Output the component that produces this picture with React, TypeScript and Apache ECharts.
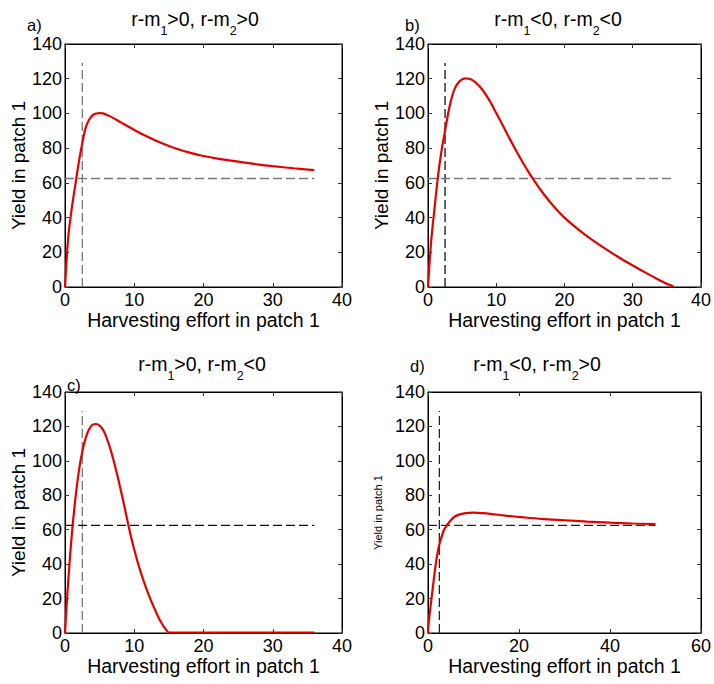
import React, { useEffect, useRef } from "react";
import * as echarts from "echarts";

// Curve data: [effort, yield]
const curveA: number[][] = [
  [0, 0], [0.25, 17], [0.5, 30], [1, 46], [1.5, 59], [2, 72], [2.5, 83], [3, 92], [3.5, 96.5],
  [4, 99], [4.5, 100], [5, 100.2], [5.5, 100], [6, 99.2], [7, 97.3], [8, 95], [9, 92.8], [10, 90.5],
  [12, 86.4], [14, 82.8], [16, 79.8], [18, 77.4], [20, 75.5], [22, 74], [25, 72.2], [28, 70.5],
  [30, 69.6], [33, 68.4], [36, 67.3],
];
const curveB: number[][] = [
  [0, 0], [0.25, 15], [0.5, 28], [1, 47], [1.5, 65], [2, 79], [2.5, 90], [3, 101], [3.5, 109.5],
  [4, 115], [4.5, 118], [5, 119.6], [5.5, 120.2], [6, 120], [6.5, 119.2], [7, 117.8], [8, 113.5],
  [9, 107.5], [10, 100.2], [11, 92.7], [12, 85.2], [13, 77.9], [14, 71], [15, 64.6], [16, 58.7],
  [17, 53.3], [18, 48.4], [19, 44], [20, 40], [22, 33.2], [24, 27.3], [26, 22], [28, 17], [30, 12.4],
  [32, 8], [34, 3.8], [35, 1.8], [36, 0.3],
];
const curveC: number[][] = [
  [0, 0], [0.25, 17], [0.5, 32], [1, 58], [1.5, 78], [2, 94], [2.5, 105.5], [3, 113.5], [3.5, 118.5],
  [4, 121], [4.5, 121.4], [5, 120.5], [5.5, 118], [6, 113.5], [6.5, 107.5], [7, 100.5], [7.5, 92.5],
  [8, 84], [8.5, 75], [9, 65.5], [9.5, 56.5], [10, 48.5], [10.5, 41], [11, 34.5], [11.5, 28.5],
  [12, 23], [12.5, 18], [13, 13.5], [13.5, 9], [14, 5.4], [14.5, 2.4], [15, 0.3], [20, 0.3],
  [25, 0.3], [30, 0.3], [36, 0.3],
];
const curveD: number[][] = [
  [0, 0], [0.1, 4.6], [0.5, 14], [1, 25], [1.5, 36], [2, 45], [2.5, 51.5], [3, 56], [3.5, 59.8],
  [4, 62], [5, 65.5], [6, 67.8], [7, 68.9], [8, 69.5], [9, 69.8], [10, 69.9], [12, 69.6], [14, 69.1],
  [17, 68.2], [21, 67.2], [25, 66.3], [30, 65.5], [35, 64.7], [40, 64.1], [45, 63.6], [50, 63.3],
];
const curves = [curveA, curveB, curveC, curveD];

// Reference dashed lines
const vLine: number[][] = [[2.5, 0], [2.5, 129]];
const hLineShort: number[][] = [[0, 62.5], [36, 62.5]];
const hLineLong: number[][] = [[0, 62.5], [50, 62.5]];
const hLines = [hLineShort, hLineShort, hLineShort, hLineLong];

const xMaxes = [40, 40, 40, 60];
const xIntervals = [10, 10, 10, 20];
const yMax = 140;
const yInterval = 20;

const panelLetters = ["a)", "b)", "c)", "d)"];
const panelTitles = [
  "{m|r-m}{s|1}{m|>0, r-m}{s|2}{m|>0}",
  "{m|r-m}{s|1}{m|<0, r-m}{s|2}{m|<0}",
  "{m|r-m}{s|1}{m|>0, r-m}{s|2}{m|<0}",
  "{m|r-m}{s|1}{m|<0, r-m}{s|2}{m|>0}",
];
const xName = "Harvesting effort in patch 1";
const yName = "Yield in patch 1";

const FONT = "'Liberation Sans', Arial, sans-serif";

export default function App() {
  const ref = useRef<HTMLDivElement>(null);
  useEffect(() => {
    if (!ref.current) return;
    const chart = echarts.init(ref.current, undefined, { renderer: "svg" });

    const grids = [
      { left: 65, top: 44, width: 277, height: 243 },
      { left: 428, top: 44, width: 277, height: 243 },
      { left: 65, top: 392, width: 277, height: 241 },
      { left: 428, top: 392, width: 277, height: 241 },
    ];
    const xNameGaps = [18, 19, 23, 22];
    const yNameGaps = [34, 34, 34, 45];
    const yNameSizes = [19, 19, 19, 11];
    const vColors = ["#777", "#111", "#777", "#222"];
    const hColors = ["#777", "#777", "#111", "#222"];
    const titlePos = [
      { cx: 195, top: 9, lx: 27, ly: 16 },
      { cx: 558, top: 9, lx: 405, ly: 16 },
      { cx: 202, top: 354, lx: 67, ly: 376 },
      { cx: 537, top: 354, lx: 410, ly: 357 },
    ];

    const xAxis: any[] = [];
    const yAxis: any[] = [];
    const series: any[] = [];
    const title: any[] = [];

    grids.forEach((g, i) => {
      const tick = { show: true, inside: true, length: 4, lineStyle: { color: "#333" } };
      const axLine = { show: true, lineStyle: { color: "#000", width: 1 } };
      xAxis.push({
        type: "value", gridIndex: i, position: "bottom", min: 0, max: xMaxes[i], interval: xIntervals[i],
        axisLine: { ...axLine, onZero: false }, axisTick: tick, splitLine: { show: false },
        axisLabel: { color: "#000", fontSize: 18, fontFamily: FONT, margin: 4 },
        name: xName, nameLocation: "middle", nameGap: xNameGaps[i],
        nameTextStyle: { color: "#000", fontSize: 19.5, fontFamily: FONT, verticalAlign: "top" },
      });
      xAxis.push({
        type: "value", gridIndex: i, position: "top", min: 0, max: xMaxes[i], interval: xIntervals[i],
        axisLine: { ...axLine, onZero: false }, axisTick: tick, splitLine: { show: false },
        axisLabel: { show: false },
      });
      yAxis.push({
        type: "value", gridIndex: i, position: "left", min: 0, max: yMax, interval: yInterval,
        axisLine: { ...axLine, onZero: false }, axisTick: tick, splitLine: { show: false },
        axisLabel: { color: "#000", fontSize: 18, fontFamily: FONT, margin: 3 },
        name: yName, nameLocation: "middle", nameGap: yNameGaps[i],
        nameTextStyle: { color: "#000", fontSize: yNameSizes[i], fontFamily: FONT },
      });
      yAxis.push({
        type: "value", gridIndex: i, position: "right", min: 0, max: yMax, interval: yInterval,
        axisLine: { ...axLine, onZero: false }, axisTick: tick, splitLine: { show: false },
        axisLabel: { show: false },
      });

      const xi = i * 2;
      const yi = i * 2;
      series.push({
        type: "line", xAxisIndex: xi, yAxisIndex: yi, data: vLine, symbol: "none",
        lineStyle: { color: vColors[i], width: 1.3, type: [9, 4] }, z: 2,
      });
      series.push({
        type: "line", xAxisIndex: xi, yAxisIndex: yi, data: hLines[i], symbol: "none",
        lineStyle: { color: hColors[i], width: 1.3, type: [9, 4] }, z: 2,
      });
      series.push({
        type: "line", xAxisIndex: xi, yAxisIndex: yi, data: curves[i], symbol: "none",
        smooth: 0.3, lineStyle: { color: "#e50000", width: 2.2 }, z: 3,
      });

      const tp = titlePos[i];
      title.push({
        text: panelTitles[i], left: tp.cx, top: tp.top, textAlign: "center", padding: 0,
        textStyle: {
          color: "#000", fontSize: 19.5, fontWeight: "normal", fontFamily: FONT,
          rich: {
            m: { fontSize: 19.5, fontFamily: FONT, color: "#000", verticalAlign: "top" },
            s: { fontSize: 12.5, fontFamily: FONT, color: "#000", verticalAlign: "top", padding: [15, 0, 0, 0] },
          },
        },
      });
      title.push({
        text: panelLetters[i], left: tp.lx, top: tp.ly, padding: 0,
        textStyle: { color: "#000", fontSize: 16.5, fontWeight: "normal", fontFamily: FONT },
      });
    });

    chart.setOption({
      animation: false,
      backgroundColor: "#fff",
      title,
      grid: grids.map((g) => ({ ...g, show: true, borderColor: "#000", borderWidth: 1, backgroundColor: "transparent" })),
      xAxis,
      yAxis,
      series,
    });
    return () => chart.dispose();
  }, []);

  return (
    <div
      ref={ref}
      style={{ position: "fixed", left: 0, top: 0, width: 714, height: 684, background: "#fff" }}
    />
  );
}
